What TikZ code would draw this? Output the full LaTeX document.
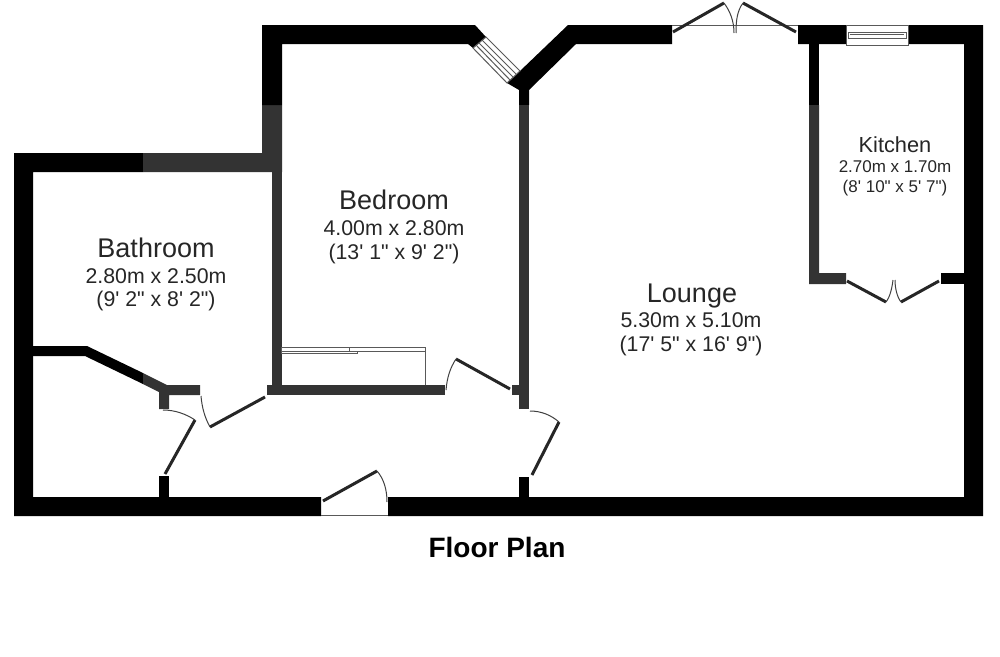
\documentclass[tikz,border=0pt]{standalone}
\usepackage{fontspec}
\setmainfont{Liberation Sans}
\newcommand{\ft}{\textquotesingle}
\newcommand{\inch}{\textquotedbl}
\tikzset{
  wall/.style={fill=black,draw=none},
  wallgrey/.style={fill=black!80,draw=none},
  leaf/.style={draw=black!85,line width=3pt},
  swing/.style={draw=black!75,line width=1pt},
  joinery/.style={draw=black!65,line width=1pt,fill=white},
  roomname/.style={text=black!85,inner sep=0pt,anchor=base,font=\fontsize{27}{27}\selectfont},
  roomsize/.style={text=black!85,inner sep=0pt,anchor=base,font=\fontsize{21.3}{21.3}\selectfont},
  kitname/.style={text=black!85,inner sep=0pt,anchor=base,font=\fontsize{21.8}{21.8}\selectfont},
  kitsize/.style={text=black!85,inner sep=0pt,anchor=base,font=\fontsize{17}{17}\selectfont},
}
\begin{document}
\begin{tikzpicture}[x=1pt,y=-1pt]
  \useasboundingbox (0,0) rectangle (1000,656);
  \fill[wall] (14,153) -- (143,153) -- (143,172) -- (33,172) -- (33,497) -- (321,497) -- (321,516) -- (14,516) -- cycle;
  \fill[wall] (388,497) -- (964,497) -- (964,44) -- (798,44) -- (798,25) -- (983,25) -- (983,516) -- (388,516) -- cycle;
  \fill[wallgrey] (143,153) -- (262,153) -- (262,105) -- (282,105) -- (282,172) -- (143,172) -- cycle;
  \fill[wall] (262,105) -- (262,25) -- (475,25) -- (486,37) -- (473,48) -- (468,44) -- (282,44) -- (282,105) -- cycle;
  \fill[wallgrey] (272,172) rectangle (282,385);
  \fill[wallgrey] (267,385) rectangle (445,395);
  \fill[wall] (507,83) -- (520,71) -- (568,25) -- (672,25) -- (672,44) -- (576,44) -- (529,90) -- (529,105) -- (519,105) -- (519,90) -- cycle;
  \fill[wallgrey] (519,105) rectangle (529,409);
  \fill[wallgrey] (512,385) rectangle (519,395);
  \fill[wall] (519,477) rectangle (529,497);
  \fill[wall] (809,44) rectangle (819,105);
  \fill[wallgrey] (809,105) -- (819,105) -- (819,273) -- (846,273) -- (846,284) -- (809,284) -- cycle;
  \fill[wall] (941,273) rectangle (964,284);
  \fill[wall] (33,346) -- (87,346) -- (143,373) -- (143,384) -- (85,356) -- (33,356) -- cycle;
  \fill[wallgrey] (143,373) -- (167,385) -- (200,385) -- (200,395) -- (169,395) -- (169,409) -- (159,409) -- (159,392) -- (143,384) -- cycle;
  \fill[wall] (159,476) rectangle (169,497);
  \draw[joinery] (473,48) -- (486,37) -- (520,71) -- (507,83) -- cycle;
  \draw[joinery] (476,45) -- (510,80);
  \draw[joinery] (479,43) -- (513,77);
  \draw[joinery] (482,40) -- (516,74);
  \draw[joinery] (846,25) rectangle (908,45);
  \draw[joinery] (848,32) rectangle (906,38);
  \draw[joinery] (850,34) -- (904,34);
  \draw[joinery] (281,347) rectangle (350,351);
  \draw[joinery] (281,351) rectangle (357,353);
  \draw[joinery] (349,347) rectangle (425,351);
  \draw[joinery] (425,351) -- (425,385);
  \draw[joinery] (672,25) -- (798,25);
  \draw[joinery] (321,515) -- (388,515);
  \draw[leaf] (323,501) -- (377,471);
  \draw[swing] (377,471) .. controls (384,479) and (387,490) .. (387,502);
  \draw[leaf] (165,474) -- (195,420);
  \draw[swing] (163,410) .. controls (175,410) and (186,414) .. (195,420);
  \draw[leaf] (210,427) -- (265,397);
  \draw[swing] (201,396) .. controls (202,408) and (205,418) .. (210,427);
  \draw[leaf] (456,359) -- (510,389);
  \draw[swing] (446,390) .. controls (447,378) and (450,368) .. (456,359);
  \draw[leaf] (532,475) -- (559,422);
  \draw[swing] (530,411) .. controls (541,411) and (551,415) .. (559,422);
  \draw[leaf] (847,281) -- (886,302);
  \draw[leaf] (939,281) -- (901,302);
  \draw[swing] (886,302) .. controls (890,297) and (892,288) .. (893,280);
  \draw[swing] (901,302) .. controls (897,297) and (895,288) .. (895,280);
  \draw[leaf] (673,32) -- (724,3);
  \draw[leaf] (796,32) -- (743,3);
  \draw[swing] (724,3) .. controls (730,11) and (734,21) .. (734,33);
  \draw[swing] (743,3) .. controls (737,11) and (736,21) .. (736,33);
  \node[roomname] (bathroom) at (156,257) {Bathroom};
  \node[roomsize] (bathroomsize) at (156,283) {2.80m x 2.50m};
  \node[roomsize] (bathroomimp) at (156,306) {(9\ft{} 2\inch{} x 8\ft{} 2\inch)};
  \node[roomname] (bedroom) at (394,209) {Bedroom};
  \node[roomsize] (bedroomsize) at (394,235) {4.00m x 2.80m};
  \node[roomsize] (bedroomimp) at (394,259) {(13\ft{} 1\inch{} x 9\ft{} 2\inch)};
  \node[roomname] (lounge) at (692,302) {Lounge};
  \node[roomsize] (loungesize) at (691,327) {5.30m x 5.10m};
  \node[roomsize] (loungeimp) at (691,351) {(17\ft{} 5\inch{} x 16\ft{} 9\inch)};
  \node[kitname] (kitchen) at (895,152) {Kitchen};
  \node[kitsize] (kitchensize) at (895,172) {2.70m x 1.70m};
  \node[kitsize] (kitchenimp) at (895,192) {(8\ft{} 10\inch{} x 5\ft{} 7\inch)};
  \node[inner sep=0pt,anchor=base,font=\bfseries\fontsize{28}{28}\selectfont] (title) at (497,557) {Floor Plan};
\end{tikzpicture}
\end{document}
